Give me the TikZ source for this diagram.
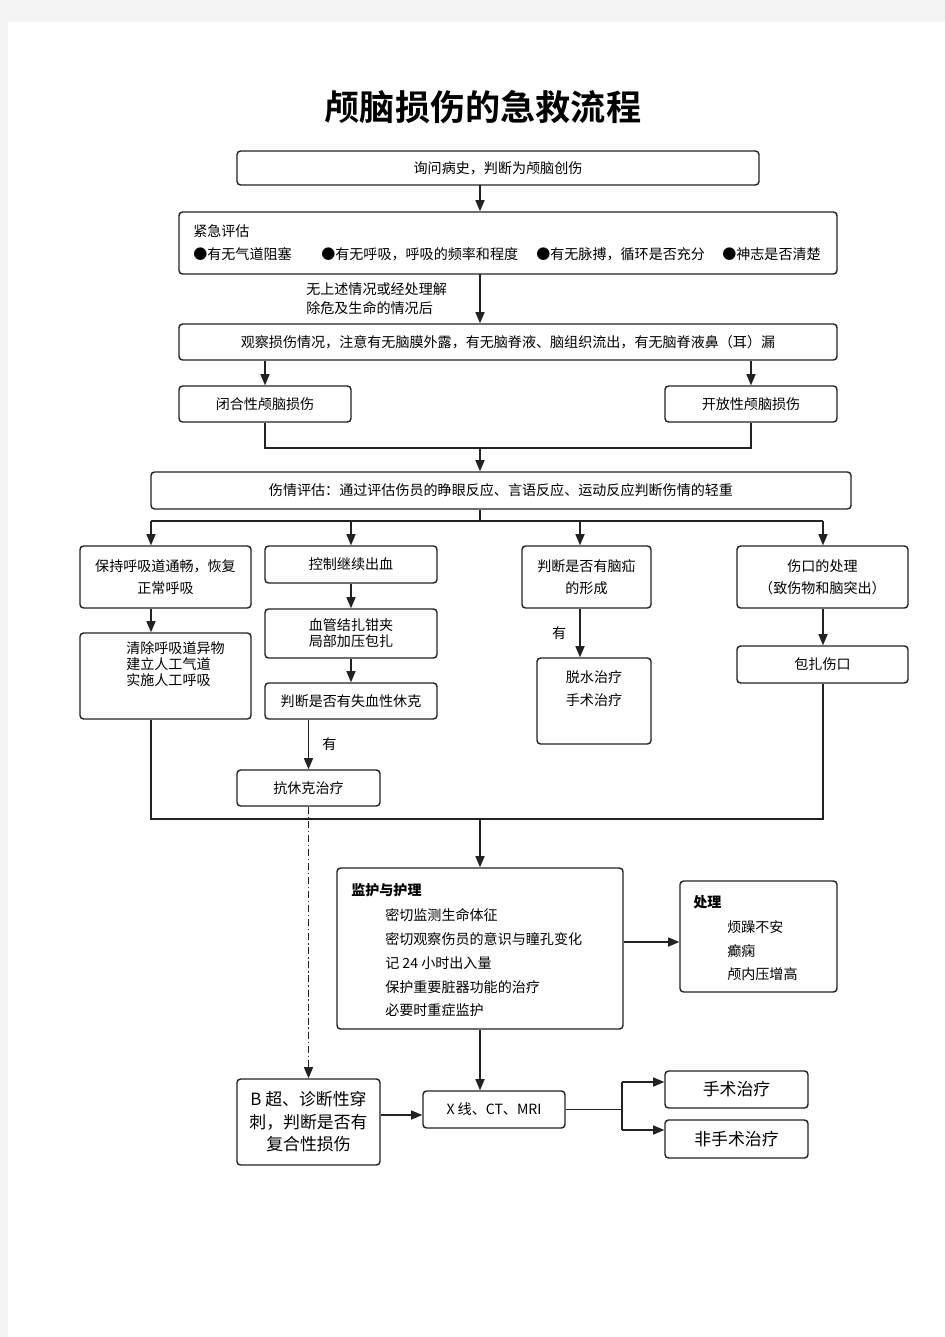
\documentclass[tikz,border=0pt]{standalone}
\usepackage{fontspec}
\setmainfont{Noto Sans CJK SC}
\newfontfamily\titlefont{Noto Sans CJK SC Bold}
\usetikzlibrary{positioning,arrows.meta}

\definecolor{pagegray}{HTML}{F3F3F3}
\definecolor{linec}{HTML}{222222}

\begin{document}
\begin{tikzpicture}[x=0.025cm, y=-0.025cm,
    box/.style={rectangle, draw=linec, rounded corners=2.5pt, line width=1pt, inner sep=0pt, align=center, font=\fontsize{10}{15.6}\selectfont},
    sz/.style 2 args={minimum width=#1*0.025cm, minimum height=#2*0.025cm},
    txt/.style={inner sep=0pt, anchor=west, font=\fontsize{10}{12}\selectfont},
    big/.style={font=\fontsize{12}{16}\selectfont},
    arr/.style={-{Triangle[length=8pt, width=6.5pt]}, line width=0.9pt, draw=linec},
    ln/.style={line width=0.9pt, draw=linec}]

% page
\fill[pagegray] (0,0) rectangle (945,1337);
\fill[white] (8,22) rectangle (945,1337);

% Title
\node[inner sep=0pt, font=\titlefont\fontsize{25}{30}\selectfont] (title) at (483,107) {颅脑损伤的急救流程};

% Top part
\node[box, sz={522}{34}] (ask) at (498,168) {询问病史，判断为颅脑创伤};
\node[box, sz={658}{62}] (urgent) at (508,243) {};
\node[txt] (urgtitle) at (193,231) {紧急评估};
\node[txt] (chk1) at (193,254) {●有无气道阻塞};
\node[txt] (chk2) at (321,254) {●有无呼吸，呼吸的频率和程度};
\node[txt] (chk3) at (536,254) {●有无脉搏，循环是否充分};
\node[txt] (chk4) at (722,254) {●神志是否清楚};
\node[txt, anchor=north west, align=left, font=\fontsize{10}{13.5}\selectfont] (cond) at (306,282) {无上述情况或经处理解\\除危及生命的情况后};
\node[box, sz={658}{36}] (observe) at (508,342) {观察损伤情况，注意有无脑膜外露，有无脑脊液、脑组织流出，有无脑脊液鼻（耳）漏};
\node[box, sz={172}{36}] (closed) at (265,404) {闭合性颅脑损伤};
\node[box, sz={172}{36}] (open) at (751,404) {开放性颅脑损伤};
\node[box, sz={700}{37}] (assess) at (501,490.5) {伤情评估：通过评估伤员的睁眼反应、言语反应、运动反应判断伤情的轻重};

% Treatment branches
\node[box, sz={171}{62}] (airway) at (165.5,577) {保持呼吸道通畅，恢复\\正常呼吸};
\node[box, sz={172}{37}] (bleed) at (351,564.5) {控制继续出血};
\node[box, sz={129}{62}] (hernia) at (586.5,577) {判断是否有脑疝\\的形成};
\node[box, sz={171}{62}] (wound) at (822.5,577) {伤口的处理\\（致伤物和脑突出）};

\node[box, sz={171}{86}] (clear) at (165.5,676) {};
\node[txt, anchor=north west, align=left, font=\fontsize{10}{11.4}\selectfont] (cleartxt) at (126,641) {清除呼吸道异物\\建立人工气道\\实施人工呼吸};
\node[box, sz={172}{49}, font=\fontsize{10}{11.4}\selectfont] (clamp) at (351,633.5) {血管结扎钳夹\\局部加压包扎};
\node[box, sz={172}{36}] (shock) at (351,701) {判断是否有失血性休克};
\node[box, sz={143}{36}] (antishock) at (308.5,788) {抗休克治疗};
\node[box, sz={114}{86}] (dehydr) at (594,701) {};
\node[txt, anchor=north, align=center, font=\fontsize{10}{16.4}\selectfont] (dehydrtxt) at (594,670) {脱水治疗\\手术治疗};
\node[box, sz={171}{37}] (bandage) at (822.5,664.5) {包扎伤口};

% Monitoring
\node[box, sz={286}{161}] (monitor) at (480,948.5) {};
\node[txt, font=\fontsize{10}{12}\selectfont\bfseries] (montitle) at (351,890) {监护与护理};
\node[txt] (mon1) at (385,915) {密切监测生命体征};
\node[txt] (mon2) at (385,939) {密切观察伤员的意识与瞳孔变化};
\node[txt] (mon3) at (385,963) {记 24 小时出入量};
\node[txt] (mon4) at (385,987) {保护重要脏器功能的治疗};
\node[txt] (mon5) at (385,1010) {必要时重症监护};

\node[box, sz={157}{111}] (treat) at (758.5,936.5) {};
\node[txt, font=\fontsize{10}{12}\selectfont\bfseries] (treattitle) at (693,902) {处理};
\node[txt] (tr1) at (727,927) {烦躁不安};
\node[txt] (tr2) at (727,951) {癫痫};
\node[txt] (tr3) at (727,974) {颅内压增高};

% Bottom
\node[box, sz={142}{37}] (xray) at (494,1109.5) {X 线、CT、MRI};
\node[box, big, sz={143}{86}] (bscan) at (308.5,1122) {B 超、诊断性穿\\刺，判断是否有\\复合性损伤};
\node[box, big, sz={143}{37}] (surg) at (736.5,1089.5) {手术治疗};
\node[box, big, sz={143}{38}] (nonsurg) at (736.5,1139) {非手术治疗};

% Connections
\draw[arr] (480,185) -- (urgent.north -| 480,0);
\draw[arr] (480,274) -- (observe.north -| 480,0);
\draw[arr] (observe.south -| closed) -- (closed);
\draw[arr] (observe.south -| open) -- (open);
\coordinate (mergeL) at (265,448);
\coordinate (mergeR) at (751,448);
\coordinate (mergeM) at (480,448);
\draw[ln] (closed) -- (mergeL) -- (mergeR) -- (open);
\draw[arr] (mergeM) -- (assess.north -| mergeM);

\coordinate (splitM) at (480,521);
\coordinate (splitL) at (151,521);
\coordinate (splitR) at (823,521);
\draw[ln] (assess.south -| splitM) -- (splitM);
\draw[ln] (splitL) -- (splitR);
\draw[arr] (splitL) -- (airway.north -| splitL);
\draw[arr] (351,521) -- (bleed.north);
\draw[arr] (580,521) -- (hernia.north -| 580,0);
\draw[arr] (splitR) -- (wound.north -| splitR);

\draw[arr] (airway.south -| splitL) -- (clear.north -| splitL);
\draw[arr] (bleed) -- (clamp);
\draw[arr] (clamp) -- (shock);
\draw[arr] (shock.south -| antishock) -- node[right=6pt, font=\fontsize{10}{12}\selectfont] (yes1) {有} (antishock);
\draw[arr] (hernia.south -| 580,0) -- node[left=6pt, font=\fontsize{10}{12}\selectfont] (yes2) {有} (dehydr.north -| 580,0);
\draw[arr] (wound.south -| splitR) -- (bandage.north -| splitR);

\coordinate (collL) at (151,819);
\coordinate (collR) at (823,819);
\coordinate (collM) at (480,819);
\draw[ln] (clear.south -| collL) -- (collL) -- (collR) -- (bandage.south -| collR);
\draw[arr] (collM) -- (monitor);

\draw[arr, dash pattern=on 5pt off 2pt on 1pt off 2pt] (antishock) -- (bscan);
\draw[arr] (monitor.east |- 0,942) -- (treat.west |- 0,942);
\draw[arr] (monitor) -- (xray.north -| monitor);
\draw[arr] (bscan.east |- 0,1115) -- (xray.west |- 0,1115);

\coordinate (fork) at (622,1109.5);
\draw[ln] (xray) -- (fork);
\draw[ln] (622,1082) -- (622,1130);
\draw[arr] (622,1082) -- (surg.west |- 0,1082);
\draw[arr] (622,1130) -- (nonsurg.west |- 0,1130);

\end{tikzpicture}
\end{document}
